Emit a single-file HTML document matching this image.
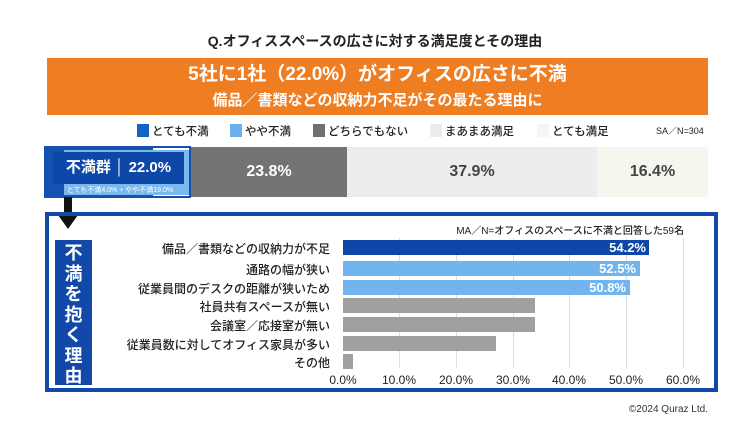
<!DOCTYPE html>
<html><head><meta charset="utf-8"><style>
*{margin:0;padding:0;box-sizing:border-box}
body{width:750px;height:423px;background:#fff;font-family:"Liberation Sans","Noto Sans CJK JP",sans-serif;position:relative;overflow:hidden;color:#222}
.a{position:absolute}
.lg{position:absolute;top:124px;font-size:11.5px;line-height:14px;font-weight:500}
.lg i{display:inline-block;width:12px;height:13px;vertical-align:-2px;margin-right:3px}
.lab{position:absolute;right:420px;font-size:12px;text-align:right;white-space:nowrap;font-weight:500}
.bar{position:absolute;left:343px;height:15px}
.v{position:absolute;color:#fff;font-weight:bold;font-size:13px;text-align:right}
.tk{position:absolute;top:373px;font-size:12px;width:50px;text-align:center;font-weight:500}
.gl{position:absolute;top:238px;height:130px;width:1px;background:#ddd}
</style></head><body>
<div class="a" style="left:0;width:750px;top:31px;text-align:center;font-size:14px;font-weight:bold">Q.オフィススペースの広さに対する満足度とその理由</div>
<div class="a" style="left:47px;width:661px;top:58px;height:57px;background:#ef7d22;color:#fff;text-align:center;font-weight:bold">
<div style="font-size:19px;line-height:30px;margin-top:2px">5社に1社（22.0%）がオフィスの広さに不満</div>
<div style="font-size:15px;line-height:22px">備品／書類などの収納力不足がその最たる理由に</div></div>
<div class="lg" style="left:137px"><i style="background:#1565c0"></i>とても不満</div>
<div class="lg" style="left:230px"><i style="background:#6bb1ee"></i>やや不満</div>
<div class="lg" style="left:313px"><i style="background:#707070"></i>どちらでもない</div>
<div class="lg" style="left:430px"><i style="background:#ececec"></i>まあまあ満足</div>
<div class="lg" style="left:537px"><i style="background:#f6f6ee"></i>とても満足</div>
<div class="lg" style="left:656px;font-size:9px">SA／N=304</div>
<div class="a" style="left:44px;top:146px;width:109px;height:52px;background:#1552b0"></div>
<div class="a" style="left:64px;top:150px;width:125px;height:45px;background:#7ab8ee"></div>
<div class="a" style="left:44px;top:146px;width:147px;height:52px;border:2px solid #1552b0"></div>
<div class="a" style="left:53px;top:152px;width:131px;height:32px;background:#0d47a8;color:#fff;font-weight:bold;font-size:15px;line-height:32px;text-align:center">不満群 │ 22.0%</div>
<div class="a" style="left:50px;top:185px;width:140px;font-size:7px;color:#fff;text-align:center">とても不満4.0% + やや不満19.0%</div>
<div class="a" style="left:191px;top:147px;width:156px;height:50px;background:#737373;color:#fff;font-weight:bold;font-size:16px;line-height:50px;text-align:center">23.8%</div>
<div class="a" style="left:347px;top:147px;width:250px;height:50px;background:#ededed;color:#444;font-weight:bold;font-size:16px;line-height:50px;text-align:center">37.9%</div>
<div class="a" style="left:597px;top:147px;width:111px;height:50px;background:#f6f6ee;color:#444;font-weight:bold;font-size:16px;line-height:50px;text-align:center">16.4%</div>
<div class="a" style="left:64px;top:197px;width:8px;height:20px;background:#111"></div>
<div class="a" style="left:58px;top:215px;width:0;height:0;border-left:10px solid transparent;border-right:10px solid transparent;border-top:14px solid #111"></div>
<div class="a" style="left:45px;top:212px;width:673px;height:180px;border:4px solid #1248a8"></div>
<div class="a" style="left:55px;top:240px;width:37px;height:145px;background:#1248a8;color:#fff;font-weight:bold;font-size:18px;line-height:20.5px;text-align:center;padding-top:3px">不<br>満<br>を<br>抱<br>く<br>理<br>由</div>
<div class="a" style="left:420px;top:222px;width:264px;text-align:right;font-size:10px;font-weight:500">MA／N=オフィスのスペースに不満と回答した59名</div>
<div class="gl" style="left:399px"></div><div class="gl" style="left:456px"></div><div class="gl" style="left:513px"></div><div class="gl" style="left:569px"></div><div class="gl" style="left:626px"></div><div class="gl" style="left:683px"></div>
<div class="lab" style="top:240px">備品／書類などの収納力が不足</div>
<div class="lab" style="top:261px">通路の幅が狭い</div>
<div class="lab" style="top:280px">従業員間のデスクの距離が狭いため</div>
<div class="lab" style="top:298px">社員共有スペースが無い</div>
<div class="lab" style="top:317px">会議室／応接室が無い</div>
<div class="lab" style="top:336px">従業員数に対してオフィス家具が多い</div>
<div class="lab" style="top:354px">その他</div>
<div class="bar" style="top:240px;width:306px;background:#0d47a8"></div>
<div class="bar" style="top:261px;width:297px;background:#72b4ee"></div>
<div class="bar" style="top:280px;width:287px;background:#72b4ee"></div>
<div class="bar" style="top:298px;width:192px;background:#a0a0a0"></div>
<div class="bar" style="top:317px;width:192px;background:#a0a0a0"></div>
<div class="bar" style="top:336px;width:153px;background:#a0a0a0"></div>
<div class="bar" style="top:354px;width:10px;background:#a0a0a0"></div>
<div class="v" style="left:560px;width:86px;top:240px">54.2%</div>
<div class="v" style="left:550px;width:86px;top:261px">52.5%</div>
<div class="v" style="left:540px;width:86px;top:280px">50.8%</div>
<div class="tk" style="left:318px">0.0%</div><div class="tk" style="left:374px">10.0%</div><div class="tk" style="left:431px">20.0%</div><div class="tk" style="left:488px">30.0%</div><div class="tk" style="left:544px">40.0%</div><div class="tk" style="left:601px">50.0%</div><div class="tk" style="left:658px">60.0%</div>
<div class="a" style="left:600px;top:404px;width:108px;text-align:right;font-size:10px;color:#333">©2024 Quraz Ltd.</div>
</body></html>
